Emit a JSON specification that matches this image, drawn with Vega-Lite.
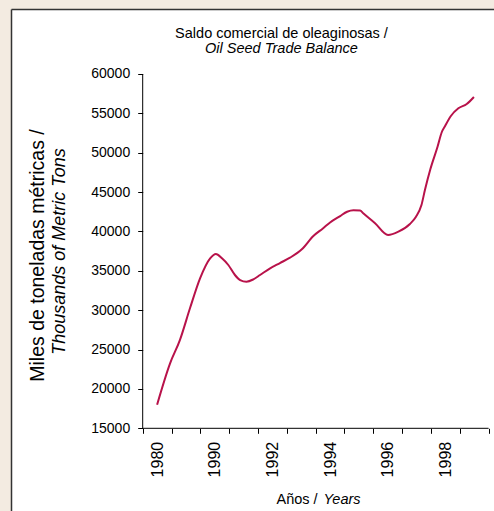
{
  "$schema": "https://vega.github.io/schema/vega-lite/v6.json",
  "width": 483,
  "height": 502,
  "autosize": {"type": "none"},
  "padding": {"left": 11, "top": 9, "right": 0, "bottom": 0},
  "background": "#f3ebe1",
  "config": {
    "font": "Liberation Sans",
    "view": {"stroke": null, "fill": "#ffffff"},
    "axis": {
      "grid": false,
      "labelFont": "Liberation Sans",
      "titleFont": "Liberation Sans",
      "labelColor": "#000000",
      "titleColor": "#000000",
      "tickColor": "#000000",
      "domainColor": "#333333",
      "titleFontWeight": "normal"
    }
  },
  "title": {
    "text": "Saldo comercial de oleaginosas /",
    "subtitle": "Oil Seed Trade Balance",
    "font": "Liberation Sans",
    "subtitleFont": "Liberation Sans",
    "fontSize": 14.5,
    "fontWeight": "normal",
    "color": "#000000",
    "subtitleFontSize": 14.5,
    "subtitleFontStyle": "italic",
    "subtitleColor": "#000000",
    "subtitlePadding": 0,
    "anchor": "middle",
    "frame": "group",
    "dx": 29,
    "offset": -47
  },
  "resolve": {"axis": {"x": "independent", "y": "independent"}},
  "layer": [
    {
      "data": {"values": [
        {"periodo": 0.0, "valor": 18000},
        {"periodo": 0.45, "valor": 23250},
        {"periodo": 0.79, "valor": 26200},
        {"periodo": 1.14, "valor": 30240},
        {"periodo": 1.49, "valor": 34050},
        {"periodo": 1.84, "valor": 36590},
        {"periodo": 2.04, "valor": 37140},
        {"periodo": 2.25, "valor": 36590},
        {"periodo": 2.47, "valor": 35740},
        {"periodo": 2.70, "valor": 34470},
        {"periodo": 2.88, "valor": 33830},
        {"periodo": 3.10, "valor": 33620},
        {"periodo": 3.34, "valor": 33920},
        {"periodo": 3.57, "valor": 34470},
        {"periodo": 3.92, "valor": 35320},
        {"periodo": 4.26, "valor": 35990},
        {"periodo": 4.61, "valor": 36670},
        {"periodo": 5.02, "valor": 37730},
        {"periodo": 5.42, "valor": 39420},
        {"periodo": 5.75, "valor": 40380},
        {"periodo": 6.00, "valor": 41140},
        {"periodo": 6.35, "valor": 41960},
        {"periodo": 6.59, "valor": 42510},
        {"periodo": 6.81, "valor": 42700},
        {"periodo": 7.04, "valor": 42660},
        {"periodo": 7.15, "valor": 42300},
        {"periodo": 7.56, "valor": 41040},
        {"periodo": 8.01, "valor": 39550},
        {"periodo": 8.37, "valor": 39970},
        {"periodo": 8.77, "valor": 40950},
        {"periodo": 8.98, "valor": 41870},
        {"periodo": 9.17, "valor": 43360},
        {"periodo": 9.29, "valor": 45260},
        {"periodo": 9.48, "valor": 47930},
        {"periodo": 9.73, "valor": 50790},
        {"periodo": 9.87, "valor": 52570},
        {"periodo": 9.99, "valor": 53390},
        {"periodo": 10.19, "valor": 54660},
        {"periodo": 10.45, "valor": 55640},
        {"periodo": 10.74, "valor": 56190},
        {"periodo": 10.99, "valor": 57080}
      ]},
      "mark": {"type": "line", "color": "#b8124a", "strokeWidth": 2, "interpolate": "monotone"},
      "encoding": {
        "x": {
          "field": "periodo",
          "type": "quantitative",
          "scale": {"domain": [-5.068, 11.686], "nice": false, "zero": false},
          "axis": {
            "orient": "bottom",
            "offset": -82.7,
            "values": [-0.5, 0.5, 1.5, 2.5, 3.5, 4.5, 5.5, 6.5, 7.5, 8.5, 9.5, 10.5, 11.5],
            "labelExpr": "['1980','','1990','','1992','','1994','','1996','','1998','',''][round(datum.value + 0.5)]",
            "labelAngle": 270,
            "labelOffset": 14.4,
            "labelPadding": 8,
            "labelFontSize": 16,
            "labelOverlap": false,
            "labelBound": false,
            "labelFlush": false,
            "tickSize": 5,
            "tickWidth": 1,
            "domain": false,
            "title": "Años /",
            "titleFontSize": 14.5,
            "titleX": 265,
            "titleY": 75,
            "titleAlign": "left",
            "titleBaseline": "alphabetic"
          }
        },
        "y": {
          "field": "valor",
          "type": "quantitative",
          "scale": {"domain": [4497, 68255], "nice": false, "zero": false},
          "axis": {
            "orient": "left",
            "offset": -131.7,
            "values": [15000, 20000, 25000, 30000, 35000, 40000, 45000, 50000, 55000, 60000],
            "format": "d",
            "labelFontSize": 14,
            "labelPadding": 8,
            "labelOverlap": false,
            "tickSize": 5,
            "tickWidth": 1,
            "domain": false,
            "title": "Miles de toneladas métricas /",
            "titleFontSize": 19.5,
            "titleAngle": 270,
            "titleX": -105,
            "titleY": 246,
            "titleAlign": "center",
            "titleBaseline": "middle"
          }
        }
      }
    },
    {
      "data": {"values": [{}]},
      "mark": {"type": "rule", "color": "#000000", "strokeWidth": 1},
      "encoding": {
        "x": {
          "datum": -0.5,
          "type": "quantitative",
          "scale": {"domain": [-5.068, 11.686], "nice": false, "zero": false},
          "axis": {
            "orient": "bottom",
            "offset": -82.7,
            "domain": false,
            "ticks": false,
            "labels": false,
            "title": "Years",
            "titleFontStyle": "italic",
            "titleFontSize": 14.5,
            "titleX": 312,
            "titleY": 75,
            "titleAlign": "left",
            "titleBaseline": "alphabetic"
          }
        },
        "y": {
          "datum": 15000,
          "type": "quantitative",
          "scale": {"domain": [4497, 68255], "nice": false, "zero": false},
          "axis": {
            "orient": "left",
            "offset": -131.7,
            "domain": false,
            "ticks": false,
            "labels": false,
            "title": "Thousands of Metric Tons",
            "titleFontStyle": "italic",
            "titleFontSize": 18,
            "titleAngle": 270,
            "titleX": -83,
            "titleY": 242,
            "titleAlign": "center",
            "titleBaseline": "middle"
          }
        },
        "y2": {"datum": 60000}
      }
    },
    {
      "data": {"values": [{}]},
      "mark": {"type": "rule", "color": "#000000", "strokeWidth": 1},
      "encoding": {
        "x": {
          "datum": -0.5,
          "type": "quantitative",
          "scale": {"domain": [-5.068, 11.686], "nice": false, "zero": false},
          "axis": {
            "orient": "top",
            "offset": 0,
            "domain": true,
            "domainColor": "#333333",
            "domainWidth": 1.5,
            "ticks": false,
            "labels": false,
            "title": null
          }
        },
        "x2": {"datum": 11.5},
        "y": {
          "datum": 15000,
          "type": "quantitative",
          "scale": {"domain": [4497, 68255], "nice": false, "zero": false},
          "axis": {
            "orient": "left",
            "offset": 0,
            "domain": true,
            "domainColor": "#333333",
            "domainWidth": 1.5,
            "ticks": false,
            "labels": false,
            "title": null
          }
        }
      }
    }
  ]
}
